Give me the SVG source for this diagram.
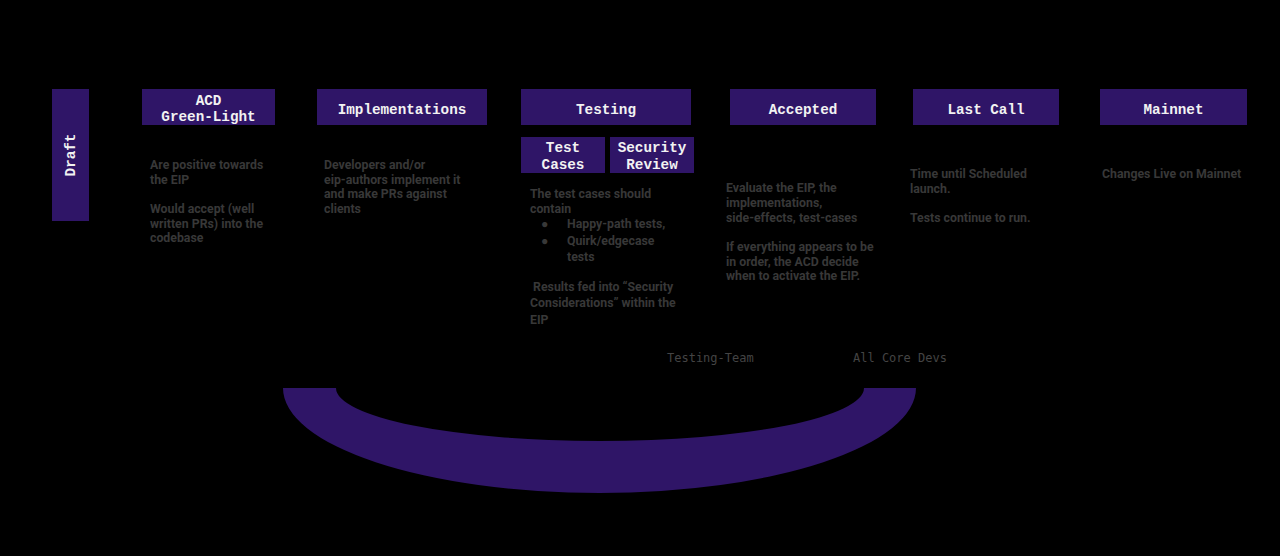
<svg xmlns="http://www.w3.org/2000/svg" width="1280" height="556" viewBox="0 0 1280 556">
<style>
.box{fill:#2f1567}
.lbl{font-family:"Liberation Mono","Courier New",monospace;font-weight:bold;font-size:14.3px;fill:#f2f2f2;text-anchor:middle}
.desc{font-family:Roboto,"Liberation Sans",sans-serif;font-weight:bold;font-size:12.3px;fill:#383838}
.team{font-family:"DejaVu Sans Mono",monospace;font-size:12px;fill:#444444}
</style>
<rect width="1280" height="556" fill="#000000"/>
<g id="connectors">
<path class="box" d="M283,388 A316.5,105 0 0 0 916,388 L864,388 A264,53 0 0 1 336,388 Z"/>
</g>
<g id="draft">
<rect class="box" x="52" y="89" width="37" height="132"/>
<text class="lbl" transform="translate(75,155) rotate(-90)">Draft</text>
</g>
<g id="acd">
<rect class="box" x="142" y="89" width="133" height="36"/>
<text class="lbl" x="208.5" y="105">ACD</text>
<text class="lbl" x="208.5" y="121">Green-Light</text>
<text class="desc" x="150" y="169">Are positive towards</text>
<text class="desc" x="150" y="184">the EIP</text>
<text class="desc" x="150" y="213">Would accept (well</text>
<text class="desc" x="150" y="228">written PRs) into the</text>
<text class="desc" x="150" y="242">codebase</text>
</g>
<g id="implementations">
<rect class="box" x="317" y="89" width="170" height="36"/>
<text class="lbl" x="402" y="114">Implementations</text>
<text class="desc" x="324" y="169">Developers and/or</text>
<text class="desc" x="324" y="184">eip-authors implement it</text>
<text class="desc" x="324" y="198">and make PRs against</text>
<text class="desc" x="324" y="213">clients</text>
</g>
<g id="testing">
<rect class="box" x="521" y="89" width="170" height="36"/>
<text class="lbl" x="606" y="114">Testing</text>
</g>
<g id="testcases">
<rect class="box" x="521" y="137" width="84" height="36"/>
<text class="lbl" x="563" y="152">Test</text>
<text class="lbl" x="563" y="169">Cases</text>
</g>
<g id="securityreview">
<rect class="box" x="610" y="137" width="84" height="36"/>
<text class="lbl" x="652" y="152">Security</text>
<text class="lbl" x="652" y="169">Review</text>
</g>
<g id="testing-desc">
<text class="desc" x="530" y="198">The test cases should</text>
<text class="desc" x="530" y="213">contain</text>
<text class="desc" x="541" y="228">●</text>
<text class="desc" x="567" y="228">Happy-path tests,</text>
<text class="desc" x="541" y="245">●</text>
<text class="desc" x="567" y="245">Quirk/edgecase</text>
<text class="desc" x="567" y="261">tests</text>
<text class="desc" x="530" y="291" xml:space="preserve"> Results fed into “Security</text>
<text class="desc" x="530" y="307">Considerations” within the</text>
<text class="desc" x="530" y="324">EIP</text>
</g>
<g id="accepted">
<rect class="box" x="730" y="89" width="146" height="36"/>
<text class="lbl" x="803" y="114">Accepted</text>
<text class="desc" x="726" y="192">Evaluate the EIP, the</text>
<text class="desc" x="726" y="207">implementations,</text>
<text class="desc" x="726" y="222">side-effects, test-cases</text>
<text class="desc" x="726" y="251">If everything appears to be</text>
<text class="desc" x="726" y="266">in order, the ACD decide</text>
<text class="desc" x="726" y="280">when to activate the EIP.</text>
</g>
<g id="lastcall">
<rect class="box" x="913" y="89" width="146" height="36"/>
<text class="lbl" x="986" y="114">Last Call</text>
<text class="desc" x="910" y="178">Time until Scheduled</text>
<text class="desc" x="910" y="193">launch.</text>
<text class="desc" x="910" y="222">Tests continue to run.</text>
</g>
<g id="mainnet">
<rect class="box" x="1100" y="89" width="147" height="36"/>
<text class="lbl" x="1173.5" y="114">Mainnet</text>
<text class="desc" x="1102" y="178">Changes Live on Mainnet</text>
</g>
<g id="teams">
<text class="team" x="667" y="362">Testing-Team</text>
<text class="team" x="853" y="362">All Core Devs</text>
</g>
</svg>
